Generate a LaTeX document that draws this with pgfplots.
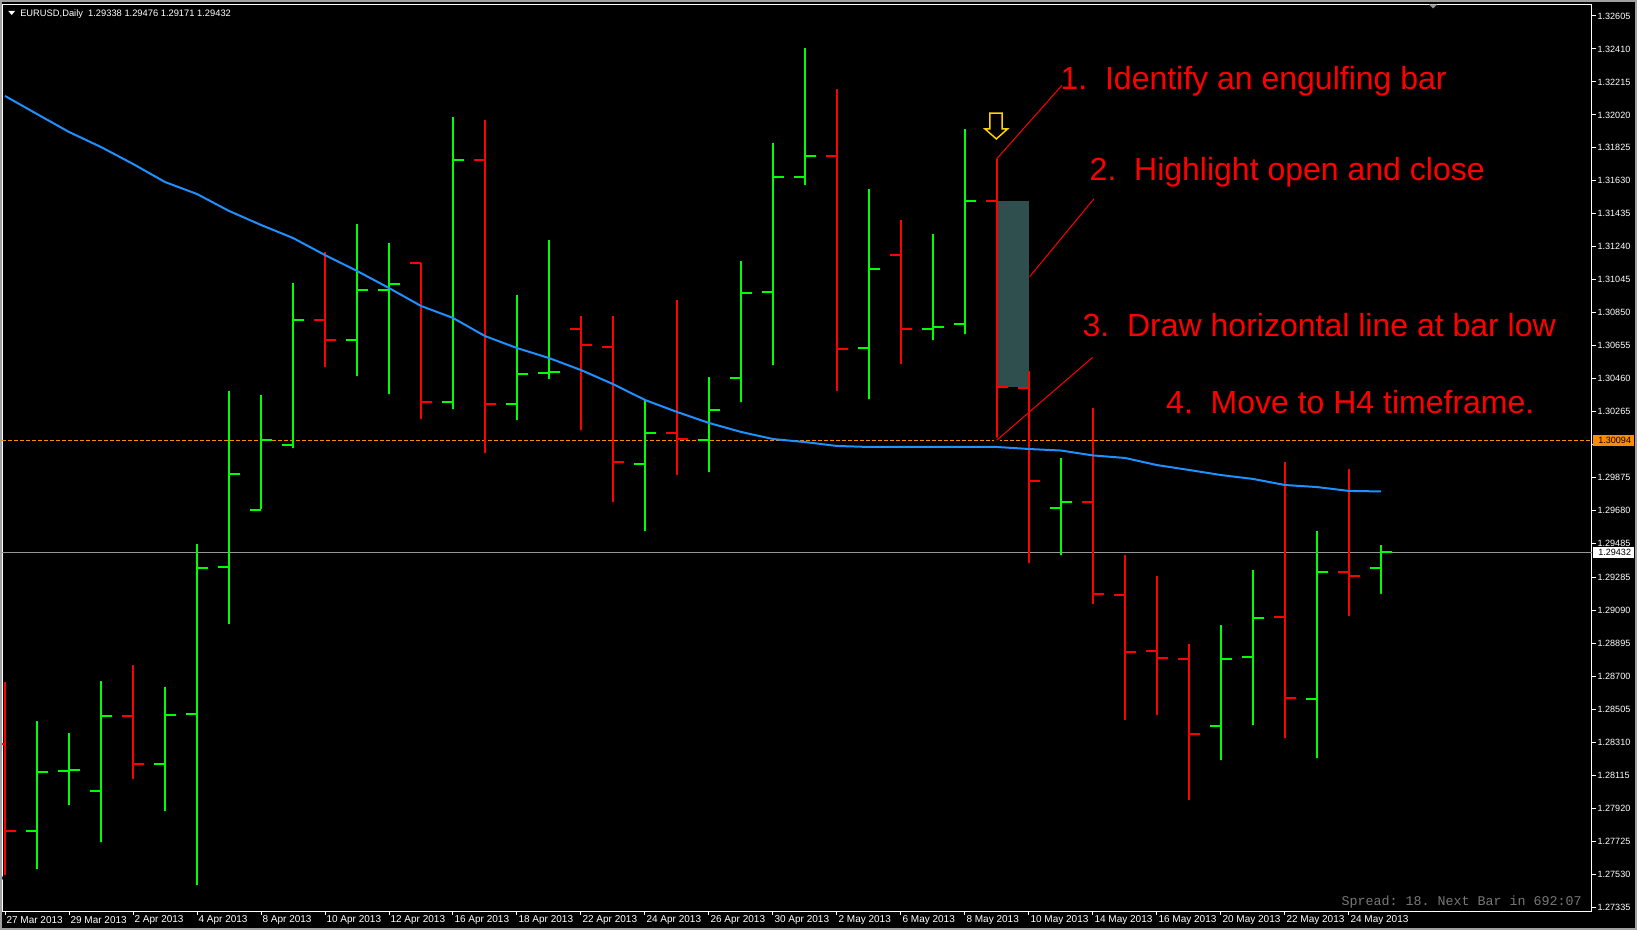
\documentclass[border=0pt]{standalone}
\usepackage{fontspec}
\setmainfont{Liberation Sans}
\setmonofont{Liberation Mono}
\usepackage{pgfplots}
\usepackage{pgfplotstable}
\pgfplotsset{compat=1.18}

\definecolor{mtgreen}{RGB}{0,255,0}
\definecolor{mtred}{RGB}{255,0,0}
\definecolor{mablue}{RGB}{30,144,255}
\definecolor{hlcol}{RGB}{47,79,79}
\definecolor{hline}{RGB}{255,140,0}
\definecolor{pricegray}{RGB}{150,150,150}
\definecolor{arrowgold}{RGB}{255,210,0}
\definecolor{framegray}{RGB}{160,160,160}
\definecolor{spreadgray}{RGB}{120,120,120}
\definecolor{markgray}{RGB}{140,150,160}

% bullish (green) bars: index open high low close
\pgfplotstableread{
x o h l c
1 1.27785 1.28435 1.27542 1.28134
2 1.28140 1.28364 1.27921 1.28146
3 1.28021 1.28672 1.27702 1.28465
5 1.28181 1.28636 1.27885 1.28471
6 1.28477 1.29482 1.27448 1.29340
7 1.29346 1.30387 1.28991 1.29896
8 1.29683 1.30363 1.29671 1.30097
9 1.30068 1.31026 1.30032 1.30807
11 1.30689 1.31375 1.30458 1.30984
12 1.30984 1.31262 1.30352 1.31020
14 1.30322 1.32008 1.30263 1.31753
16 1.30310 1.30955 1.30198 1.30488
17 1.30494 1.31280 1.30440 1.30499
20 1.29955 1.30334 1.29541 1.30139
22 1.30097 1.30470 1.29890 1.30275
23 1.30464 1.31156 1.30304 1.30967
24 1.30973 1.31854 1.30523 1.31653
25 1.31653 1.32416 1.31588 1.31777
27 1.30641 1.31582 1.30322 1.31109
29 1.30754 1.31316 1.30671 1.30766
30 1.30783 1.31937 1.30707 1.31508
33 1.29695 1.29991 1.29399 1.29731
38 1.28406 1.29003 1.28187 1.28802
39 1.28814 1.29328 1.28394 1.29045
41 1.28565 1.29559 1.28199 1.29317
43 1.29338 1.29476 1.29171 1.29432
}\upbars

% bearish (red) bars
\pgfplotstableread{
x o h l c
0 1.28300 1.28666 1.27507 1.27785
4 1.28465 1.28767 1.28075 1.28181
10 1.30807 1.31209 1.30511 1.30689
13 1.31144 1.31144 1.30204 1.30322
15 1.31753 1.31990 1.30003 1.30310
18 1.30754 1.30831 1.30139 1.30659
19 1.30647 1.30831 1.29713 1.29967
21 1.30139 1.30925 1.29873 1.30103
26 1.31777 1.32173 1.30369 1.30635
28 1.31191 1.31398 1.30529 1.30754
31 1.31508 1.31759 1.30094 1.30411
32 1.30405 1.30505 1.29352 1.29855
34 1.29731 1.30287 1.29110 1.29187
35 1.29181 1.29417 1.28424 1.28843
36 1.28849 1.29293 1.28453 1.28808
37 1.28803 1.28891 1.27950 1.28358
40 1.29050 1.29967 1.28317 1.28571
42 1.29317 1.29926 1.29039 1.29293
}\downbars

\pgfdeclareplotmark{otick}{%
  \pgfpathmoveto{\pgfqpoint{-8.25bp}{0bp}}%
  \pgfpathlineto{\pgfqpoint{0bp}{0bp}}%
  \pgfusepathqstroke}
\pgfdeclareplotmark{ctick}{%
  \pgfpathmoveto{\pgfqpoint{0bp}{0bp}}%
  \pgfpathlineto{\pgfqpoint{8.25bp}{0bp}}%
  \pgfusepathqstroke}

\begin{document}
\begin{tikzpicture}[x=0.75bp,y=0.75bp]
\path[use as bounding box] (0,0) rectangle (1637,930);
\clip (0,0) rectangle (1637,930);
\fill[black] (0,0) rectangle (1637,930);

\begin{axis}[
  at={(1.5bp,14.25bp)}, anchor=south west,
  scale only axis, width=1192.5bp, height=679.875bp,
  xmin=-0.094, xmax=49.594, ymin=1.273116, ymax=1.32673,
  axis background/.style={fill=black},
  axis line style={white, line width=0.75bp},
  clip marker paths=true,
  xtick={0,2,...,42},
  xticklabels={27 Mar 2013,29 Mar 2013,2 Apr 2013,4 Apr 2013,8 Apr 2013,10 Apr 2013,12 Apr 2013,16 Apr 2013,18 Apr 2013,22 Apr 2013,24 Apr 2013,26 Apr 2013,30 Apr 2013,2 May 2013,6 May 2013,8 May 2013,10 May 2013,14 May 2013,16 May 2013,20 May 2013,22 May 2013,24 May 2013},
  ytick={1.27335,1.27530,1.27725,1.27920,1.28115,1.28310,1.28505,1.28700,1.28895,1.29090,1.29285,1.29485,1.29680,1.29875,1.30070,1.30265,1.30460,1.30655,1.30850,1.31045,1.31240,1.31435,1.31630,1.31825,1.32020,1.32215,1.32410,1.32605},
  yticklabels={1.27335,1.27530,1.27725,1.27920,1.28115,1.28310,1.28505,1.28700,1.28895,1.29090,1.29285,1.29485,1.29680,1.29875,,1.30265,1.30460,1.30655,1.30850,1.31045,1.31240,1.31435,1.31630,1.31825,1.32020,1.32215,1.32410,1.32605},
  xtick pos=left, ytick pos=right,
  tick align=outside,
  major tick length=3bp,
  tick style={white, line width=0.75bp},
  xticklabel style={font=\fontsize{7.5bp}{9bp}\selectfont, text=white, anchor=west, inner sep=0pt, xshift=1bp, yshift=-3.5bp},
  yticklabel style={font=\fontsize{6.8bp}{8bp}\selectfont, text=white, anchor=west, inner sep=0pt, xshift=1bp},
]
% horizontal lines
\addplot[hline, line width=0.75bp, dash pattern=on 3bp off 1.5bp] coordinates {(-0.094,1.30094) (49.594,1.30094)};
\addplot[pricegray, line width=0.75bp] coordinates {(-0.094,1.29432) (49.594,1.29432)};
% highlight rectangle
\addplot[fill=hlcol, draw=none] coordinates {(31,1.31508) (32,1.31508) (32,1.30411) (31,1.30411)} -- cycle;

% green bars
\addplot[only marks, mark=none, forget plot,
  error bars/.cd, y dir=plus, y explicit, error mark=none,
  error bar style={draw=mtgreen, line width=1.5bp, solid}]
  table[x=x, y=l, y error expr=\thisrow{h}-\thisrow{l}] {\upbars};
\addplot[only marks, mark=otick, mark options={draw=mtgreen, line width=1.5bp}] table[x=x, y=o] {\upbars};
\addplot[only marks, mark=ctick, mark options={draw=mtgreen, line width=1.5bp}] table[x=x, y=c] {\upbars};
% red bars
\addplot[only marks, mark=none, forget plot,
  error bars/.cd, y dir=plus, y explicit, error mark=none,
  error bar style={draw=mtred, line width=1.5bp, solid}]
  table[x=x, y=l, y error expr=\thisrow{h}-\thisrow{l}] {\downbars};
\addplot[only marks, mark=otick, mark options={draw=mtred, line width=1.5bp}] table[x=x, y=o] {\downbars};
\addplot[only marks, mark=ctick, mark options={draw=mtred, line width=1.5bp}] table[x=x, y=c] {\downbars};

% moving average
\addplot[mablue, line width=1.5bp] coordinates {
(0,1.32132)(1,1.32025)(2,1.31919)(3,1.31830)(4,1.31730)(5,1.31623)(6,1.31552)(7,1.31452)
(8,1.31369)(9,1.31292)(10,1.31191)(11,1.31097)(12,1.30996)(13,1.30890)(14,1.30819)(15,1.30712)
(16,1.30641)(17,1.30582)(18,1.30511)(19,1.30428)(20,1.30334)(21,1.30263)(22,1.30198)(23,1.30145)
(24,1.30103)(25,1.30085)(26,1.30062)(27,1.30056)(28,1.30056)(29,1.30056)(30,1.30056)(31,1.30056)
(32,1.30044)(33,1.30035)(34,1.30006)(35,1.29991)(36,1.29949)(37,1.29920)(38,1.29890)(39,1.29867)
(40,1.29831)(41,1.29819)(42,1.29796)(43,1.29793)};

% annotation lines
\addplot[mtred, line width=0.75bp] coordinates {(30.99,1.31760) (33.03,1.32195)};
\addplot[mtred, line width=0.75bp] coordinates {(32.02,1.31063) (34.03,1.31524)};
\addplot[mtred, line width=0.75bp] coordinates {(30.99,1.30096) (33.99,1.30586)};

% arrow
\addplot[draw=arrowgold, fill=black, line width=1.1bp] coordinates {
(30.78,1.32031) (31.16,1.32031) (31.16,1.31937) (31.33,1.31937) (30.98,1.31878) (30.625,1.31937) (30.78,1.31937)} -- cycle;

% annotation texts
\node[anchor=base west, inner sep=0pt, text=mtred, font=\fontsize{24bp}{28bp}\selectfont] at (axis cs:32.98,1.32170) {1.~~Identify an engulfing bar};
\node[anchor=base west, inner sep=0pt, text=mtred, font=\fontsize{24bp}{28bp}\selectfont] at (axis cs:33.89,1.31632) {2.~~Highlight open and close};
\node[anchor=base west, inner sep=0pt, text=mtred, font=\fontsize{24bp}{28bp}\selectfont] at (axis cs:33.67,1.30711) {3.~~Draw horizontal line at bar low};
\node[anchor=base west, inner sep=0pt, text=mtred, font=\fontsize{24bp}{28bp}\selectfont] at (axis cs:36.28,1.30255) {4.~~Move to H4 timeframe.};
\end{axis}

% header
\fill[white] (8.3,919) -- (15,919) -- (11.7,915) -- cycle;
\node[anchor=base west, inner sep=0pt, text=white, font=\fontsize{7bp}{8bp}\selectfont] at (20,913.3) {EURUSD,Daily\ \ 1.29338 1.29476 1.29171 1.29432};
% small marker at top
\fill[markgray] (1429,925.5) -- (1437,925.5) -- (1433,921.5) -- cycle;
% price boxes on the scale
\fill[hline] (1593,484) rectangle (1634,495);
\node[anchor=west, inner sep=0pt, text=black, font=\fontsize{6.8bp}{8bp}\selectfont] at (1598,489.5) {1.30094};
\fill[white] (1593,372) rectangle (1634,383);
\node[anchor=west, inner sep=0pt, text=black, font=\fontsize{6.8bp}{8bp}\selectfont] at (1598,377.5) {1.29432};
% spread text
\node[anchor=base east, inner sep=0pt, text=spreadgray, font=\ttfamily\fontsize{10bp}{12bp}\selectfont] at (1582,25) {Spread: 18. Next Bar in 692:07};
% window frame
\draw[framegray, line width=1.5bp] (1,1) rectangle (1636,929);
\end{tikzpicture}
\end{document}
